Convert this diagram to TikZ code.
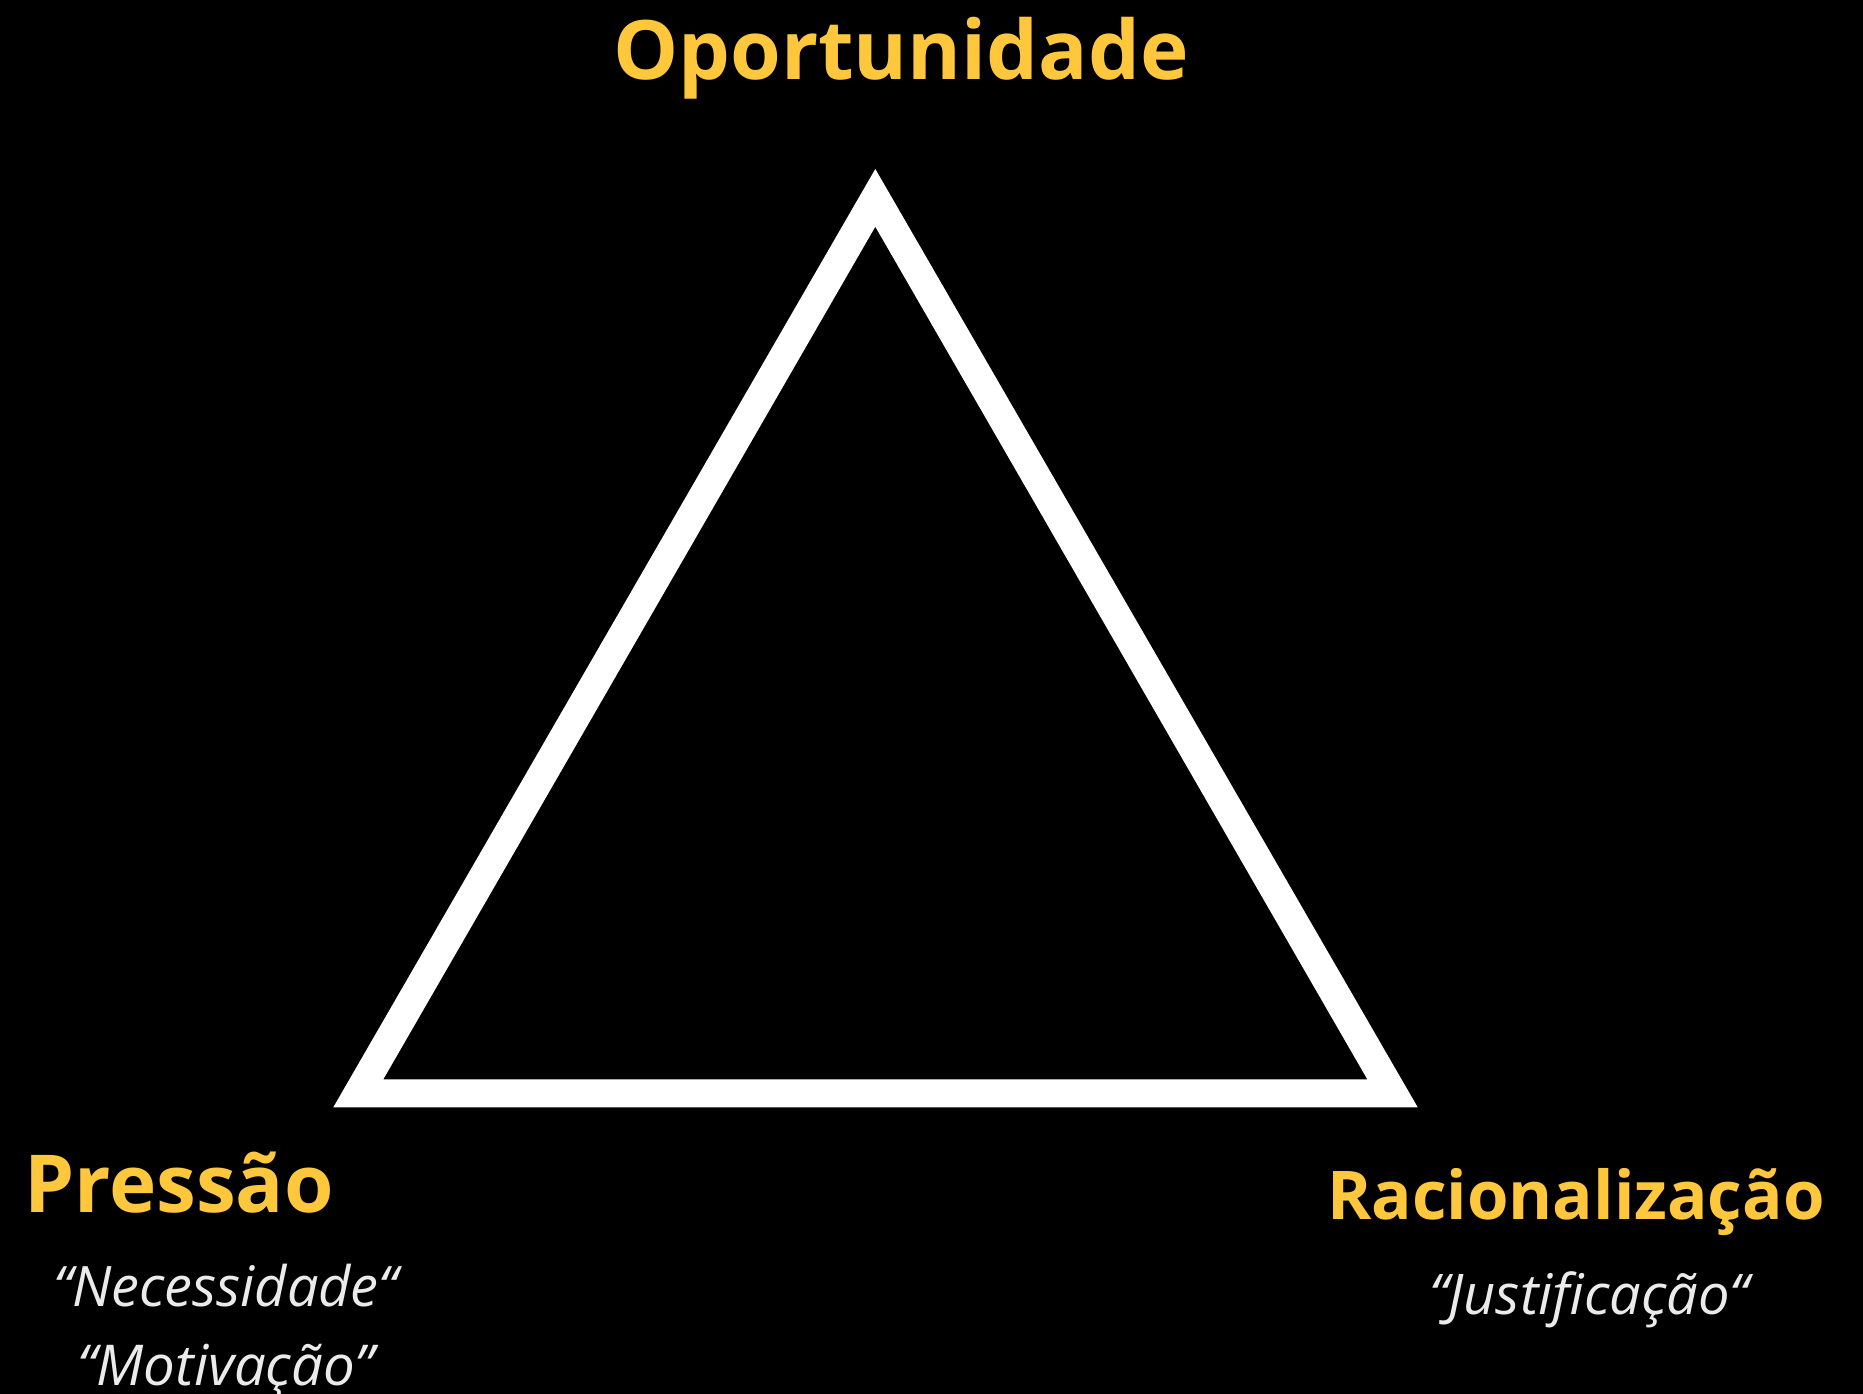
\documentclass[tikz,border=0pt]{standalone}
\usepackage{fontspec}
\setmainfont{Open Sans}
\definecolor{gold}{HTML}{FFC83C}
\definecolor{softgray}{HTML}{EBEBEB}
\tikzset{
  head/.style={inner sep=0pt, anchor=base west, text=gold, font=\bfseries},
  sub/.style={inner sep=0pt, anchor=base west, text=softgray, font=\itshape},
}
\begin{document}
\begin{tikzpicture}[x=1pt,y=-1pt]
\fill[black] (0,0) rectangle (1863,1394);
\useasboundingbox (0,0) rectangle (1863,1394);
% triangle
\coordinate (oA) at (875.3,169);
\coordinate (oB) at (333.3,1107.3);
\coordinate (oC) at (1417.7,1107.3);
\coordinate (iA) at (875.3,226.7);
\coordinate (iB) at (383.3,1079.3);
\coordinate (iC) at (1367.3,1079.3);
\fill[white, even odd rule] (oA) -- (oB) -- (oC) -- cycle (iA) -- (iB) -- (iC) -- cycle;
% labels
\node[head, font=\bfseries\fontsize{82}{98}\selectfont] (op) at (613,80) {Oportunidade};
\node[head, font=\bfseries\fontsize{80}{96}\selectfont] (pr) at (24,1212.7) {Pressão};
\node[head, font=\bfseries\fontsize{67.2}{80}\selectfont] (ra) at (1327,1219.3) {Racionalização};
\node[sub, font=\itshape\fontsize{55.8}{66}\selectfont] (ne) at (53,1306.7) {“Necessidade“};
\node[sub, font=\itshape\fontsize{56.3}{66}\selectfont] (mo) at (77,1385) {“Motivação”};
\node[sub, font=\itshape\fontsize{56}{66}\selectfont] (ju) at (1429,1314) {“Justificação“};
\end{tikzpicture}
\end{document}
